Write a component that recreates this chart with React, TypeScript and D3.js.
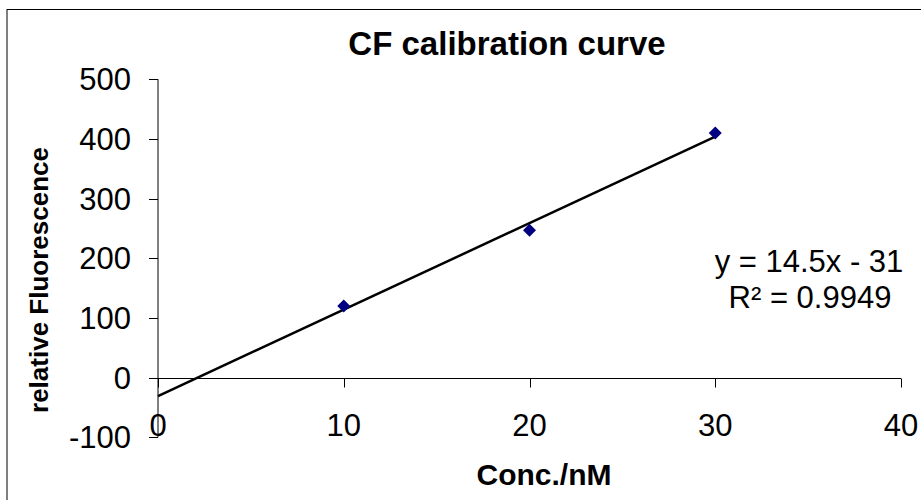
import React from "react";
import * as d3 from "d3";

const concentrations = [10, 20, 30];
const fluorescence = [120, 247, 410];
const xTicks = [0, 10, 20, 30, 40];
const yTicks = [-100, 0, 100, 200, 300, 400, 500];
const titleText = "CF calibration curve";
const xLabel = "Conc./nM";
const yLabel = "relative Fluorescence";

const W = 921;
const H = 500;
const FONT = "'Liberation Sans', Arial, sans-serif";

export default function App() {
  const x = d3.scaleLinear().domain([0, 40]).range([158, 901]);
  const y = d3.scaleLinear().domain([-100, 500]).range([437.3, 79.3]);

  // linear regression
  const n = concentrations.length;
  const mx = d3.mean(concentrations) as number;
  const my = d3.mean(fluorescence) as number;
  let sxy = 0, sxx = 0, syy = 0;
  for (let i = 0; i < n; i++) {
    sxy += (concentrations[i] - mx) * (fluorescence[i] - my);
    sxx += (concentrations[i] - mx) ** 2;
    syy += (fluorescence[i] - my) ** 2;
  }
  const slope = sxy / sxx;
  const intercept = my - slope * mx;
  let ssres = 0;
  for (let i = 0; i < n; i++) {
    const r = fluorescence[i] - (slope * concentrations[i] + intercept);
    ssres += r * r;
  }
  const r2 = 1 - ssres / syy;
  const trendX = [0, d3.max(concentrations) as number];
  const line = d3
    .line<number>()
    .x((d) => x(d))
    .y((d) => y(slope * d + intercept));

  const eqText = `y = ${d3.format(".1f")(slope)}x - ${Math.round(Math.abs(intercept))}`;
  const r2Text = `R² = ${d3.format(".4f")(r2)}`;

  const diamond = (cx: number, cy: number, s: number) =>
    `M${cx},${cy - s}L${cx + s},${cy}L${cx},${cy + s}L${cx - s},${cy}Z`;

  const y0 = Math.round(y(0)) + 0.5;

  return (
    <svg
      width={W}
      height={H}
      style={{ position: "absolute", left: 0, top: 0, background: "#fff" }}
      fontFamily={FONT}
    >
      <rect x={0} y={0} width={W} height={H} fill="#fff" />
      <rect x={7} y={9.5} width={1200} height={1200} fill="none" stroke="#000" strokeWidth={1} />

      <text x={507} y={55} textAnchor="middle" fontSize={33} fontWeight="bold" fill="#000">
        {titleText}
      </text>

      {/* y axis */}
      <line x1={158} x2={158} y1={y(500)} y2={y(-100)} stroke="#000" strokeWidth={1} />
      {yTicks.map((t) => (
        <g key={"y" + t}>
          <line x1={149} x2={158} y1={Math.round(y(t)) + 0.5} y2={Math.round(y(t)) + 0.5} stroke="#000" />
          <text x={131} y={y(t) + 11} textAnchor="end" fontSize={31} fill="#000">
            {t}
          </text>
        </g>
      ))}

      {/* x axis */}
      <line x1={x(0)} x2={x(40)} y1={y0} y2={y0} stroke="#000" strokeWidth={1} />
      {xTicks.map((t) => (
        <g key={"x" + t}>
          <line x1={Math.round(x(t)) + 0.5} x2={Math.round(x(t)) + 0.5} y1={y0} y2={y0 + 9} stroke="#000" />
          <text x={x(t)} y={436} textAnchor="middle" fontSize={31} fill="#000">
            {t}
          </text>
        </g>
      ))}

      <text x={544} y={485} textAnchor="middle" fontSize={30} fontWeight="bold" fill="#000">
        {xLabel}
      </text>
      <text
        transform={`translate(48,${280}) rotate(-90)`}
        textAnchor="middle"
        fontSize={26}
        fontWeight="bold"
        fill="#000"
      >
        {yLabel}
      </text>

      {/* trendline */}
      <path d={line(trendX) as string} fill="none" stroke="#000" strokeWidth={2.5} />

      {/* points */}
      {concentrations.map((c, i) => (
        <path key={"p" + i} d={diamond(x(c), y(fluorescence[i]), 6.5)} fill="#000080" />
      ))}

      <text x={809} y={272} textAnchor="middle" fontSize={31} fill="#000">
        {eqText}
      </text>
      <text x={810} y={308} textAnchor="middle" fontSize={31} fill="#000">
        {r2Text}
      </text>
    </svg>
  );
}
